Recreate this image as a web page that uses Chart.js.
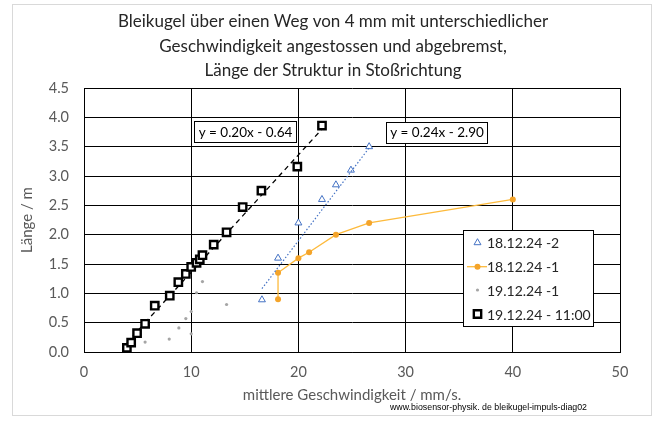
<!DOCTYPE html>
<html>
<head>
<meta charset="utf-8">
<script src="https://cdn.jsdelivr.net/npm/chart.js@4.4.1/dist/chart.umd.min.js"></script>
<style>
  html, body { margin: 0; padding: 0; background: #fff; }
</style>
</head>
<body>
<canvas id="myChart" width="657" height="422"></canvas>
<script>
const titleLines = [
  'Bleikugel über einen Weg von 4 mm mit unterschiedlicher',
  'Geschwindigkeit angestossen und abgebremst,',
  'Länge der Struktur in Stoßrichtung'
];
const seriesNames = ['18.12.24 -2', '18.12.24 -1', '19.12.24 -1', '19.12.24 - 11:00'];

// 18.12.24 -2 (Dreiecke)
const speedA = [16.6, 18.1, 20.0, 22.2, 23.5, 24.9, 26.6];
const lengthA = [0.89, 1.6, 2.2, 2.6, 2.85, 3.1, 3.5];
// 18.12.24 -1 (orange Linie)
const speedB = [18.1, 18.1, 20.0, 21.0, 23.5, 26.6, 40.0];
const lengthB = [0.9, 1.35, 1.6, 1.7, 2.0, 2.2, 2.6];
// 19.12.24 -1 (graue Punkte)
const speedC = [5.7, 7.95, 8.85, 9.5, 10.0, 10.0, 10.5, 11.05, 13.3];
const lengthC = [0.17, 0.22, 0.41, 0.57, 0.69, 0.31, 1.01, 1.2, 0.81];
// 19.12.24 - 11:00 (Quadrate)
const speedD = [4.0, 4.4, 4.95, 5.7, 6.6, 8.0, 8.8, 9.5, 10.0, 10.5, 10.8, 11.05, 12.1, 13.3, 14.8, 16.55, 19.9, 22.2];
const lengthD = [0.07, 0.16, 0.32, 0.48, 0.79, 0.96, 1.19, 1.33, 1.45, 1.52, 1.58, 1.65, 1.83, 2.04, 2.47, 2.75, 3.16, 3.86];

// Trendlinien (Endpunkte aus dem Bild)
const trendDX = [4.0, 22.2];
const trendDY = [0.16, 3.80];
const trendAX = [16.6, 26.6];
const trendAY = [1.08, 3.48];
const trendLabels = ['y = 0.20x - 0.64', 'y = 0.24x - 2.90'];

const xTicks = [0, 10, 20, 30, 40, 50];
const yTicks = [0, 0.5, 1, 1.5, 2, 2.5, 3, 3.5, 4, 4.5];

const toPts = (xs, ys) => xs.map((x, i) => ({ x: x, y: ys[i] }));

const FONT = 'Lato, "Open Sans", sans-serif';

const extras = {
  id: 'extras',
  afterDraw(chart) {
    const ctx = chart.ctx;
    const xs = chart.scales.x, ys = chart.scales.y;
    ctx.save();
    // outer frame
    ctx.strokeStyle = '#d9d9d9';
    ctx.lineWidth = 1;
    ctx.strokeRect(12.5, 4.5, 639, 411);

    // title
    ctx.fillStyle = '#262626';
    ctx.font = '17px ' + FONT;
    ctx.textAlign = 'center';
    ctx.textBaseline = 'middle';
    titleLines.forEach((t, i) => ctx.fillText(t, 333, 22 + i * 24.5));

    // trend labels
    const boxes = [
      { x: 10.25, y: 3.76, w: 102 },
      { x: 28.2, y: 3.75, w: 101 }
    ];
    ctx.font = '13.5px ' + FONT;
    ctx.textAlign = 'center';
    boxes.forEach((b, i) => {
      const px = Math.round(xs.getPixelForValue(b.x)) + 0.5;
      const py = ys.getPixelForValue(b.y);
      ctx.fillStyle = '#fff';
      ctx.fillRect(px, Math.round(py - 10.5) + 0.5, b.w, 21);
      ctx.strokeStyle = '#000';
      ctx.lineWidth = 1;
      ctx.strokeRect(px, Math.round(py - 10.5) + 0.5, b.w, 21);
      ctx.fillStyle = '#000';
      ctx.fillText(trendLabels[i], px + b.w / 2, py + 1);
    });

    // legend
    const lx = 463.5, ly = 230.5;
    ctx.fillStyle = '#fff';
    ctx.fillRect(lx, ly, 130, 96);
    ctx.strokeStyle = '#000';
    ctx.lineWidth = 1;
    ctx.strokeRect(lx, ly, 130, 96);
    const rowY = [242.7, 266.7, 290, 314];
    ctx.font = '14px ' + FONT;
    ctx.textAlign = 'left';
    chart.data.datasets.slice(0, 4).forEach((ds, i) => {
      const cy = rowY[i];
      if (ds.showLine) {
        ctx.strokeStyle = ds.borderColor;
        ctx.lineWidth = ds.borderWidth;
        ctx.beginPath();
        ctx.moveTo(467, cy);
        ctx.lineTo(487, cy);
        ctx.stroke();
      }
      ctx.fillStyle = ds.pointBackgroundColor;
      ctx.strokeStyle = ds.pointBorderColor;
      ctx.lineWidth = ds.pointBorderWidth;
      Chart.helpers.drawPoint(ctx, {
        pointStyle: ds.pointStyle,
        radius: ds.pointRadius,
        borderWidth: ds.pointBorderWidth,
        rotation: 0
      }, 477.5, cy);
      ctx.fillStyle = '#262626';
      ctx.fillText(seriesNames[i], 487, cy + 1);
    });

    // footer
    ctx.fillStyle = '#000';
    ctx.font = '9.5px "Liberation Sans", Arial, sans-serif';
    ctx.textAlign = 'right';
    ctx.fillText('www.biosensor-physik. de bleikugel-impuls-diag02', 587, 407, 197);
    ctx.restore();
  }
};

const ctx = document.getElementById('myChart');
new Chart(ctx, {
  type: 'scatter',
  data: {
    datasets: [
      {
        label: seriesNames[0],
        data: toPts(speedA, lengthA),
        pointStyle: 'triangle',
        pointRadius: 4,
        pointBorderWidth: 1,
        pointBackgroundColor: '#ffffff',
        pointBorderColor: '#4472C4',
        showLine: false,
        order: 3
      },
      {
        label: seriesNames[1],
        data: toPts(speedB, lengthB),
        pointStyle: 'circle',
        pointRadius: 3,
        pointBorderWidth: 0,
        pointBackgroundColor: '#F4A42A',
        pointBorderColor: '#F4A42A',
        borderColor: '#FDBA3C',
        borderWidth: 1.3,
        showLine: true,
        order: 4
      },
      {
        label: seriesNames[2],
        data: toPts(speedC, lengthC),
        pointStyle: 'circle',
        pointRadius: 1.6,
        pointBorderWidth: 0,
        pointBackgroundColor: '#a5a5a5',
        pointBorderColor: '#a5a5a5',
        showLine: false,
        order: 5
      },
      {
        label: seriesNames[3],
        data: toPts(speedD, lengthD),
        pointStyle: 'rect',
        pointRadius: 5.2,
        pointBorderWidth: 2.4,
        pointBackgroundColor: '#ffffff',
        pointBorderColor: '#000000',
        showLine: false,
        order: 1
      },
      {
        label: 'trend D',
        data: toPts(trendDX, trendDY),
        showLine: true,
        borderColor: '#000000',
        borderWidth: 1.3,
        borderDash: [5, 4],
        pointRadius: 0,
        order: 2
      },
      {
        label: 'trend A',
        data: toPts(trendAX, trendAY),
        showLine: true,
        borderColor: '#4472C4',
        borderWidth: 1.2,
        borderDash: [1.5, 2],
        pointRadius: 0,
        order: 2
      }
    ]
  },
  options: {
    responsive: false,
    animation: false,
    layout: { padding: { left: 0, right: 37, top: 88, bottom: 0 } },
    plugins: {
      legend: { display: false },
      tooltip: { enabled: false },
      title: { display: false }
    },
    scales: {
      x: {
        type: 'linear',
        min: 0,
        max: 50,
        afterBuildTicks: (axis) => { axis.ticks = xTicks.map(v => ({ value: v })); },
        afterFit: (axis) => { axis.height = 70; },
        grid: { color: '#000', lineWidth: 1, drawTicks: false },
        border: { color: '#000', width: 1 },
        ticks: { padding: 12, color: '#595959', font: { family: FONT, size: 14.5 } },
        title: {
          display: true,
          text: 'mittlere Geschwindigkeit / mm/s.',
          color: '#595959',
          font: { family: FONT, size: 15 },
          padding: { top: 0, bottom: 18 }
        }
      },
      y: {
        type: 'linear',
        min: 0,
        max: 4.5,
        afterBuildTicks: (axis) => { axis.ticks = yTicks.map(v => ({ value: v })); },
        afterFit: (axis) => { axis.width = 84; },
        grid: { color: '#000', lineWidth: 1, drawTicks: false },
        border: { color: '#000', width: 1 },
        ticks: {
          padding: 15,
          color: '#595959',
          font: { family: FONT, size: 14.5 },
          callback: (v) => v.toFixed(1)
        },
        title: {
          display: true,
          text: 'Länge / m',
          color: '#595959',
          font: { family: FONT, size: 15 },
          padding: { top: 18, bottom: 0 }
        }
      }
    }
  },
  plugins: [extras]
});
</script>
</body>
</html>
